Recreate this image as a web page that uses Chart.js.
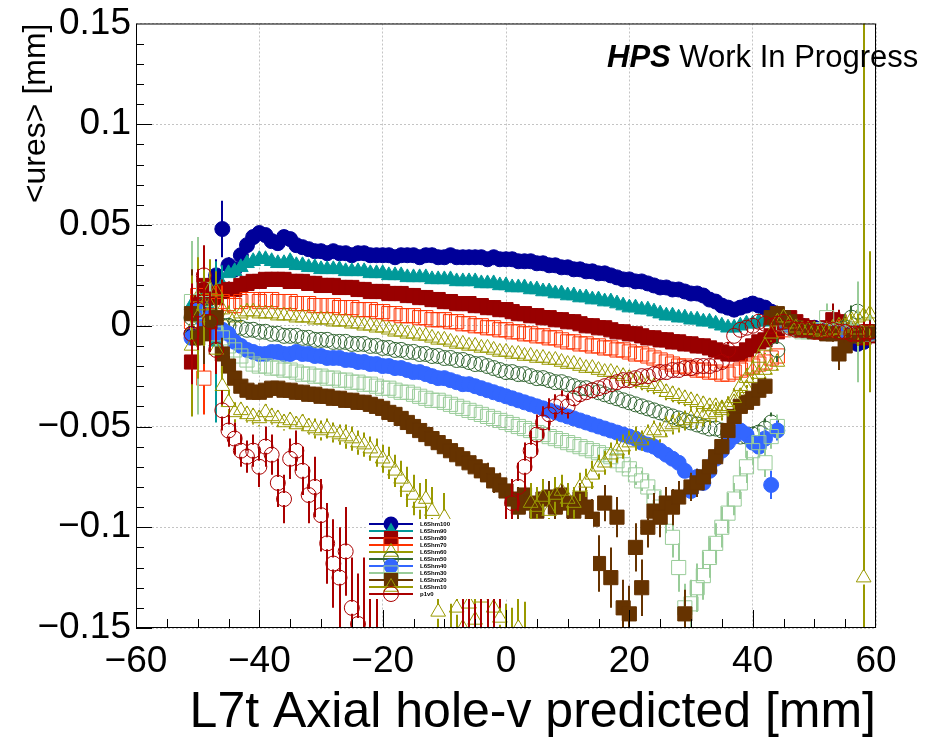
<!DOCTYPE html>
<html>
<head>
<meta charset="utf-8">
<script src="https://cdn.jsdelivr.net/npm/chart.js@4.4.1/dist/chart.umd.min.js"></script>
<style>
  html, body { margin: 0; padding: 0; background: #fff; }
  canvas { display: block; }
</style>
</head>
<body>
<canvas id="chart" width="925" height="739"></canvas>
<script>
// x bin centres [mm]: -51 ... 59, one per mm, shared by all series
const xs = [-51, -50, -49, -48, -47, -46, -45, -44, -43, -42,
  -41, -40, -39, -38, -37, -36, -35, -34, -33, -32,
  -31, -30, -29, -28, -27, -26, -25, -24, -23, -22,
  -21, -20, -19, -18, -17, -16, -15, -14, -13, -12,
  -11, -10, -9, -8, -7, -6, -5, -4, -3, -2,
  -1, 0, 1, 2, 3, 4, 5, 6, 7, 8,
  9, 10, 11, 12, 13, 14, 15, 16, 17, 18,
  19, 20, 21, 22, 23, 24, 25, 26, 27, 28,
  29, 30, 31, 32, 33, 34, 35, 36, 37, 38,
  39, 40, 41, 42, 43, 44, 45, 46, 47, 48,
  49, 50, 51, 52, 53, 54, 55, 56, 57, 58,
  59]

const xTicks = [-60, -40, -20, 0, 20, 40, 60]
const yTicks = [-0.15, -0.1, -0.05, 0, 0.05, 0.1, 0.15]

const seriesNames = ['L6Shm100', 'L6Shm90', 'L6Shm80', 'L6Shm70', 'L6Shm60', 'L6Shm50',
  'L6Shm40', 'L6Shm30', 'L6Shm20', 'L6Shm10', 'p1v0']

// <ures> and its error, in micrometres (1e-3 mm), one row = 10 bins
const shm100 = [-4, 6, 10, 20, 25, 48, 30, 28, 35, 40,
  44, 46, 45, 42, 41, 44, 43, 40, 39, 38,
  37, 37, 36, 37, 36, 36, 35, 36, 36, 35,
  35, 35, 35, 34, 35, 35, 35, 34, 35, 35,
  34, 34, 35, 34, 34, 34, 34, 34, 33, 34,
  33, 33, 33, 32, 32, 32, 31, 31, 30, 30,
  29, 29, 28, 28, 27, 27, 26, 26, 25, 24,
  23, 23, 22, 22, 21, 20, 19, 19, 18, 18,
  17, 16, 16, 15, 13, 12, 10, 9, 8, 9,
  10, 11, 10, 9, 7, 5, 3, 2, 1, 0,
  -1, -1, -2, -2, -2, -3, -3, -6, -9, -8,
  -4]
const shm100Err = [12, 10, 10, 10, 8, 14, 4, 3, 3, 3,
  2, 2, 2, 2, 2, 2, 2, 2, 2, 2,
  2, 2, 2, 2, 2, 2, 2, 2, 2, 2,
  2, 2, 2, 2, 2, 2, 2, 2, 2, 2,
  2, 2, 2, 2, 2, 2, 2, 2, 2, 2,
  2, 2, 2, 2, 2, 2, 2, 2, 2, 2,
  2, 2, 2, 2, 2, 2, 2, 2, 2, 2,
  2, 2, 2, 2, 2, 2, 2, 2, 2, 2,
  2, 2, 2, 2, 2, 2, 2, 2, 2, 2,
  2, 2, 2, 2, 2, 2, 2, 3, 3, 3,
  3, 3, 3, 4, 4, 4, 5, 6, 6, 8,
  10]

const shm90 = [10, 4, 15, 8, -8, 20, 26, 27, 29, 31,
  32, 33, 33, 32, 31, 31, 32, 30, 30, 29,
  29, 28, 28, 28, 28, 27, 27, 27, 27, 26,
  26, 26, 25, 25, 25, 24, 24, 24, 24, 23,
  23, 23, 23, 22, 22, 22, 22, 21, 21, 21,
  20, 20, 19, 19, 19, 18, 18, 17, 17, 16,
  16, 15, 15, 14, 14, 13, 13, 12, 12, 11,
  10, 9, 9, 8, 8, 7, 6, 5, 5, 4,
  4, 3, 3, 2, 2, 1, 0, -1, -1, 0,
  1, 1, 2, 2, 3, 3, 2, 1, 0, -1,
  -1, -2, -2, -2, -3, -3, -3, -4, -4, -3,
  -3]
const shm90Err = [20, 15, 20, 12, 40, 10, 3, 3, 2, 2,
  2, 2, 2, 2, 2, 2, 2, 2, 2, 2,
  2, 2, 2, 2, 2, 2, 2, 2, 2, 2,
  2, 2, 2, 2, 2, 2, 2, 2, 2, 2,
  2, 2, 2, 2, 2, 2, 2, 2, 2, 2,
  2, 2, 2, 2, 2, 2, 2, 2, 2, 2,
  2, 2, 2, 2, 2, 2, 2, 2, 2, 2,
  2, 2, 2, 2, 2, 2, 2, 2, 2, 2,
  2, 2, 2, 2, 2, 2, 2, 2, 2, 2,
  2, 2, 2, 2, 2, 2, 2, 2, 2, 2,
  3, 3, 3, 3, 4, 4, 4, 5, 5, 6,
  8]

const shm80 = [-18, 12, 20, 16, 14, 17, 18, 18, 20, 21,
  22, 22, 23, 23, 23, 23, 22, 22, 22, 21,
  21, 20, 20, 20, 19, 19, 19, 18, 18, 17,
  17, 17, 16, 16, 16, 15, 15, 14, 14, 13,
  13, 12, 12, 11, 11, 11, 10, 10, 9, 9,
  8, 8, 7, 6, 6, 5, 5, 4, 4, 3,
  3, 2, 2, 1, 0, 0, -1, -1, -2, -3,
  -3, -4, -4, -5, -6, -6, -7, -7, -8, -8,
  -9, -9, -10, -10, -11, -12, -13, -14, -14, -14,
  -12, -10, -8, -7, -5, -3, 2, 4, 2, 0,
  -1, -2, -2, -1, 3, 2, -2, -3, -4, -6,
  -5]
const shm80Err = [22, 20, 15, 10, 8, 6, 4, 3, 3, 3,
  2, 2, 2, 2, 2, 2, 2, 2, 2, 2,
  2, 2, 2, 2, 2, 2, 2, 2, 2, 2,
  2, 2, 2, 2, 2, 2, 2, 2, 2, 2,
  2, 2, 2, 2, 2, 2, 2, 2, 2, 2,
  2, 2, 2, 2, 2, 2, 2, 2, 2, 2,
  2, 2, 2, 2, 2, 2, 2, 2, 2, 2,
  2, 2, 2, 2, 2, 2, 2, 2, 2, 2,
  2, 2, 2, 2, 2, 2, 2, 2, 2, 2,
  2, 2, 2, 2, 2, 2, 2, 2, 2, 2,
  3, 3, 3, 4, 8, 6, 4, 4, 5, 6,
  8]

const shm70 = [2, 15, -26, 12, 10, 12, 11, 10, 12, 13,
  13, 12, 13, 13, 12, 12, 12, 11, 11, 11,
  10, 10, 10, 10, 9, 9, 9, 8, 8, 8,
  7, 7, 6, 6, 5, 5, 5, 4, 4, 3,
  3, 3, 2, 2, 1, 1, 0, 0, -1, -1,
  -2, -2, -3, -3, -4, -4, -5, -5, -6, -6,
  -7, -8, -8, -9, -9, -10, -10, -11, -11, -12,
  -12, -13, -14, -14, -15, -16, -17, -18, -19, -20,
  -20, -21, -22, -22, -23, -23, -24, -24, -23, -22,
  -21, -20, -19, -18, -16, -15, -2, 0, -1, -2,
  -2, -2, -3, -3, -3, -2, -3, -4, -4, -3,
  -3]
const shm70Err = [20, 25, 18, 12, 10, 8, 4, 4, 3, 3,
  3, 3, 3, 3, 3, 3, 3, 3, 3, 3,
  3, 3, 3, 3, 3, 3, 3, 3, 3, 3,
  3, 3, 3, 3, 3, 3, 3, 3, 3, 3,
  3, 3, 3, 3, 3, 3, 3, 3, 3, 3,
  3, 3, 3, 3, 3, 3, 3, 3, 3, 3,
  3, 3, 3, 3, 3, 3, 3, 3, 3, 3,
  3, 3, 3, 3, 3, 3, 3, 3, 3, 3,
  3, 3, 3, 3, 3, 3, 3, 3, 3, 3,
  3, 3, 3, 3, 3, 3, 3, 3, 3, 3,
  3, 3, 3, 4, 4, 5, 5, 6, 6, 6,
  8]

const shm60 = [-2, 14, 8, 10, 17, 8, 5, 4, 6, 7,
  7, 6, 6, 6, 5, 5, 5, 4, 4, 4,
  3, 3, 3, 2, 2, 2, 1, 1, 0, 0,
  -1, -1, -2, -3, -3, -4, -4, -5, -5, -6,
  -7, -7, -8, -9, -9, -10, -10, -11, -11, -12,
  -13, -13, -14, -14, -15, -15, -16, -16, -17, -17,
  -18, -19, -19, -20, -21, -21, -22, -23, -23, -24,
  -25, -26, -27, -28, -29, -30, -31, -33, -34, -35,
  -36, -37, -38, -39, -40, -40, -41, -40, -38, -35,
  -31, -26, -24, -22, -20, -18, 2, 0, -1, -2,
  -2, -2, -2, -2, -1, 0, 1, 3, 4, 5,
  6]
const shm60Err = [35, 20, 18, 12, 10, 8, 5, 4, 4, 4,
  3, 3, 3, 3, 3, 3, 3, 3, 3, 3,
  3, 3, 3, 3, 3, 3, 3, 3, 3, 3,
  3, 3, 3, 3, 3, 3, 3, 3, 3, 3,
  3, 3, 3, 3, 3, 3, 3, 3, 3, 3,
  3, 3, 3, 3, 3, 3, 3, 3, 3, 3,
  3, 3, 3, 3, 3, 3, 3, 3, 3, 3,
  4, 4, 4, 4, 4, 4, 4, 4, 4, 4,
  4, 4, 4, 4, 4, 4, 4, 4, 4, 4,
  4, 4, 4, 4, 4, 4, 3, 3, 3, 3,
  3, 3, 3, 3, 4, 4, 5, 6, 8, 10,
  30]

const shm50 = [4, -6, 10, 2, -2, 0, 0, -1, -1, -2,
  -2, -3, -3, -4, -4, -5, -5, -5, -6, -6,
  -7, -7, -7, -8, -8, -8, -9, -9, -9, -10,
  -10, -11, -11, -12, -12, -13, -13, -14, -14, -15,
  -15, -16, -16, -17, -17, -18, -19, -19, -20, -21,
  -22, -23, -23, -24, -24, -25, -26, -26, -27, -28,
  -28, -29, -30, -31, -31, -32, -33, -34, -35, -36,
  -37, -38, -39, -40, -41, -42, -43, -44, -45, -46,
  -47, -48, -49, -50, -51, -51, -52, -53, -54, -55,
  -55, -54, -53, -51, -48, -12, 2, 0, -1, -2,
  -2, -2, -3, -3, -2, -2, -1, 4, 7, -3,
  -3]
const shm50Err = [25, 20, 15, 12, 10, 8, 4, 3, 3, 3,
  3, 3, 3, 3, 3, 3, 3, 3, 3, 3,
  3, 3, 3, 3, 3, 3, 3, 3, 3, 3,
  3, 3, 3, 3, 3, 3, 3, 3, 3, 3,
  3, 3, 3, 3, 3, 3, 3, 3, 3, 3,
  3, 3, 3, 3, 3, 3, 3, 3, 3, 3,
  3, 3, 3, 3, 3, 3, 3, 3, 3, 3,
  3, 3, 3, 3, 3, 3, 3, 3, 3, 3,
  3, 3, 3, 3, 3, 3, 3, 3, 3, 3,
  4, 4, 4, 5, 5, 6, 3, 3, 3, 3,
  3, 3, 3, 3, 4, 4, 5, 6, 8, 6,
  8]

const shm40 = [-6, 8, 2, 4, -4, -2, -4, -8, -10, -12,
  -13, -14, -14, -13, -13, -14, -14, -13, -14, -14,
  -15, -15, -16, -16, -16, -17, -17, -18, -18, -19,
  -19, -20, -20, -21, -21, -22, -23, -23, -24, -25,
  -26, -26, -27, -28, -29, -29, -30, -31, -32, -33,
  -34, -35, -36, -37, -38, -39, -40, -41, -42, -43,
  -44, -45, -46, -47, -48, -49, -50, -51, -52, -53,
  -54, -55, -56, -58, -59, -60, -62, -64, -66, -68,
  -72, -82, -75, -78, -72, -66, -62, -58, -55, -52,
  -54, -58, -60, -56, -79, -52, 2, 0, -1, -2,
  -2, -2, -2, -3, -3, -3, -4, -4, -5, -4,
  -4]
const shm40Err = [25, 22, 18, 12, 10, 8, 4, 3, 3, 3,
  2, 2, 2, 2, 2, 2, 2, 2, 2, 2,
  2, 2, 2, 2, 2, 2, 2, 2, 2, 2,
  2, 2, 2, 2, 2, 2, 2, 2, 2, 2,
  2, 2, 2, 2, 2, 2, 2, 2, 2, 2,
  2, 2, 2, 2, 2, 2, 2, 2, 2, 2,
  2, 2, 2, 2, 2, 2, 2, 2, 2, 2,
  2, 2, 2, 2, 3, 3, 3, 3, 3, 3,
  3, 4, 4, 4, 4, 4, 4, 4, 4, 4,
  4, 4, 5, 5, 7, 5, 3, 3, 3, 3,
  3, 3, 3, 3, 4, 4, 5, 6, 6, 8,
  8]

const shm30 = [12, 0, 18, 6, -4, -6, -10, -12, -15, -17,
  -19, -20, -20, -21, -21, -22, -22, -23, -24, -24,
  -25, -25, -26, -26, -27, -27, -28, -28, -29, -29,
  -30, -31, -31, -32, -33, -33, -34, -35, -36, -37,
  -37, -38, -39, -40, -41, -42, -43, -44, -45, -46,
  -47, -48, -49, -50, -51, -52, -53, -54, -55, -56,
  -57, -58, -59, -60, -61, -62, -63, -64, -65, -67,
  -69, -71, -74, -77, -80, -85, -90, -95, -105, -120,
  -140, -138, -130, -124, -115, -108, -100, -93, -86, -78,
  -70, -62, -58, -68, -55, -50, 1, 0, -2, -3,
  -3, -2, -2, 4, -2, -3, -3, -4, -3, -4,
  -4]
const shm30Err = [30, 44, 20, 15, 12, 8, 4, 3, 3, 3,
  3, 3, 3, 3, 3, 3, 3, 3, 3, 3,
  3, 3, 3, 3, 3, 3, 3, 3, 3, 3,
  3, 3, 3, 3, 3, 3, 3, 3, 3, 3,
  3, 3, 3, 3, 3, 3, 3, 3, 3, 3,
  3, 3, 3, 3, 3, 3, 3, 3, 3, 3,
  3, 3, 3, 3, 3, 3, 3, 3, 3, 3,
  4, 4, 5, 5, 6, 6, 8, 8, 10, 12,
  12, 12, 12, 12, 10, 10, 10, 10, 8, 8,
  8, 7, 7, 7, 6, 6, 3, 3, 3, 3,
  3, 3, 3, 7, 4, 4, 5, 6, 25, 8,
  10]

const shm20 = [6, -6, -4, 2, 4, -14, -20, -26, -30, -32,
  -33, -33, -32, -31, -31, -32, -32, -33, -33, -34,
  -34, -35, -35, -36, -36, -37, -37, -38, -38, -39,
  -40, -41, -43, -44, -46, -48, -50, -52, -54, -56,
  -58, -60, -62, -64, -66, -68, -70, -72, -74, -77,
  -79, -82, -86, -90, -84, -88, -92, -86, -85, -90,
  -84, -88, -92, -86, -90, -96, -118, -88, -125, -95,
  -140, -143, -110, -130, -100, -92, -95, -88, -90, -85,
  -143, -80, -78, -75, -70, -65, -60, -52, -45, -40,
  -38, -36, -32, -30, 4, 6, 4, 2, -1, -2,
  -2, -3, -3, -4, -4, -14, -10, -5, -5, -4,
  -3]
const shm20Err = [22, 20, 15, 12, 10, 8, 5, 4, 3, 3,
  3, 3, 3, 3, 3, 3, 3, 3, 3, 3,
  3, 3, 3, 3, 3, 3, 3, 3, 3, 3,
  3, 3, 3, 3, 3, 4, 4, 4, 4, 4,
  4, 4, 4, 5, 5, 5, 5, 5, 6, 6,
  6, 6, 8, 10, 7, 8, 9, 7, 8, 10,
  8, 9, 10, 8, 10, 10, 14, 9, 15, 10,
  14, 14, 12, 14, 10, 9, 10, 8, 9, 8,
  12, 7, 7, 6, 6, 6, 5, 5, 5, 4,
  4, 4, 4, 4, 4, 4, 3, 3, 3, 3,
  3, 3, 3, 3, 4, 8, 6, 5, 5, 5,
  6]

const shm10 = [-10, 4, 10, 18, -12, -30, -38, -43, -42, -44,
  -45, -46, -43, -45, -46, -48, -47, -49, -48, -50,
  -51, -52, -51, -53, -54, -55, -56, -58, -59, -61,
  -63, -66, -68, -72, -76, -80, -84, -88, -86, -92,
  -142, -95, -160, -140, -150, -138, -146, -135, -165, -140,
  -145, -158, -160, -150, -155, -88, -90, -85, -92, -84,
  -82, -86, -88, -80, -78, -74, -70, -68, -64, -62,
  -60, -58, -56, -57, -54, -52, -53, -50, -49, -48,
  -47, -46, -46, -45, -44, -43, -42, -40, -36, -30,
  -26, -22, -16, -10, -4, 2, 4, 1, -1, -2,
  -2, -2, -3, -3, -2, -2, -1, 0, -2, -125,
  2]
const shm10Err = [35, 30, 20, 15, 12, 10, 6, 5, 4, 4,
  4, 4, 4, 4, 4, 4, 4, 4, 4, 4,
  5, 5, 5, 5, 5, 6, 6, 6, 6, 6,
  7, 7, 8, 8, 9, 10, 10, 10, 10, 12,
  18, 12, 22, 15, 20, 12, 18, 14, 25, 15,
  15, 20, 20, 18, 18, 10, 10, 9, 10, 9,
  8, 8, 8, 7, 7, 7, 6, 6, 6, 6,
  6, 6, 6, 5, 5, 5, 5, 5, 5, 5,
  5, 5, 5, 5, 5, 5, 5, 5, 5, 5,
  5, 5, 4, 4, 4, 3, 3, 3, 3, 3,
  3, 3, 3, 3, 4, 4, 5, 6, 8, 300,
  35]

const p1v0 = [-4, 8, 25, 2, -12, -42, -52, -56, -62, -65,
  -62, -70, -60, -64, -78, -86, -66, -62, -72, -84,
  -80, -94, -108, -118, -125, -112, -140, -148, -175, -170,
  -185, -200, -210, -215, -210, -220, -215, -200, -205, -195,
  -190, -185, -190, -180, -175, -165, -168, -165, -170, -160,
  -120, -100, -88, -80, -70, -62, -54, -48, -44, -40,
  -38, -40, -36, -34, -33, -32, -31, -30, -29, -28,
  -27, -27, -26, -25, -25, -24, -23, -23, -22, -22,
  -21, -21, -20, -20, -20, -19, -18, -12, -5, -2,
  -1, 0, 2, 1, 0, 1, 2, -1, -2, -2,
  -2, -3, -3, -2, -2, -3, -3, -4, -4, -3,
  -3]
const p1v0Err = [25, 20, 15, 15, 12, 10, 8, 8, 8, 8,
  8, 10, 10, 10, 12, 12, 10, 10, 12, 14,
  15, 18, 20, 22, 25, 22, 25, 25, 60, 55,
  50, 30, 30, 30, 30, 30, 30, 30, 30, 30,
  30, 30, 30, 30, 40, 30, 30, 30, 35, 30,
  20, 15, 12, 12, 12, 10, 10, 8, 8, 6,
  6, 6, 4, 4, 3, 3, 3, 3, 3, 3,
  3, 3, 3, 3, 3, 3, 3, 3, 3, 3,
  3, 3, 3, 3, 3, 3, 3, 4, 3, 3,
  3, 3, 3, 3, 3, 3, 3, 3, 3, 3,
  2, 2, 2, 3, 3, 3, 3, 4, 4, 5,
  5]

const seriesValues = [shm100, shm90, shm80, shm70, shm60, shm50, shm40, shm30, shm20, shm10, p1v0]
const seriesErrors = [shm100Err, shm90Err, shm80Err, shm70Err, shm60Err, shm50Err,
  shm40Err, shm30Err, shm20Err, shm10Err, p1v0Err]

// styling
const seriesColors = ['#000099', '#009999', '#990000', '#ff3300', '#999900', '#336633',
  '#3366ff', '#99cc99', '#663300', '#999900', '#aa0000']
const markerStyles = ['circle', 'triangle', 'rect', 'rect', 'triangle', 'circle',
  'circle', 'rect', 'rect', 'triangle', 'circle']
const markerFilled = [true, true, true, false, false, false, true, false, true, false, false]
const markerRadius = { circle: 7.5, rect: 10, triangle: 8.5 }

Chart.defaults.font.family = '"Liberation Sans", Arial, Helvetica, sans-serif'
Chart.defaults.color = '#000'

const um = v => v / 1000 // micrometres -> mm
const fmt = v => String(Math.round(v * 1000) / 1000).replace('-', '\u2212')

function drawMarker(ctx, style, x, y, r, color, filled) {
  ctx.beginPath()
  if (style === 'circle') {
    ctx.arc(x, y, r, 0, Math.PI * 2)
  } else if (style === 'rect') {
    const s = r * Math.SQRT1_2
    ctx.rect(x - s, y - s, 2 * s, 2 * s)
  } else {
    let a = 0
    ctx.moveTo(x + Math.sin(a) * r, y - Math.cos(a) * r)
    a += Math.PI * 2 / 3
    ctx.lineTo(x + Math.sin(a) * r, y - Math.cos(a) * r)
    a += Math.PI * 2 / 3
    ctx.lineTo(x + Math.sin(a) * r, y - Math.cos(a) * r)
  }
  ctx.closePath()
  if (filled) {
    ctx.fillStyle = color
    ctx.fill()
  } else {
    ctx.strokeStyle = color
    ctx.lineWidth = 1
    ctx.stroke()
  }
}

// vertical error bars, drawn just under each dataset's markers
const errorBars = {
  id: 'errorBars',
  beforeDatasetDraw(chart, args) {
    const ds = chart.data.datasets[args.index]
    const { ctx, chartArea: a, scales: { x, y } } = chart
    const gap = ds.pointStyle === 'rect' ? ds.pointRadius * Math.SQRT1_2 : ds.pointRadius * 0.8
    ctx.save()
    ctx.beginPath()
    ctx.rect(a.left, a.top, a.right - a.left, a.bottom - a.top)
    ctx.clip()
    ctx.strokeStyle = ds.borderColor
    ctx.lineWidth = 2
    ctx.beginPath()
    ds.data.forEach((p, i) => {
      const e = ds.errors[i]
      if (p.y == null || !e) return
      const px = Math.round(x.getPixelForValue(p.x))
      const mid = y.getPixelForValue(p.y)
      const top = y.getPixelForValue(p.y + e)
      const bot = y.getPixelForValue(p.y - e)
      if (mid - top > gap) { ctx.moveTo(px, top); ctx.lineTo(px, mid - gap) }
      if (bot - mid > gap) { ctx.moveTo(px, mid + gap); ctx.lineTo(px, bot) }
    })
    ctx.stroke()
    ctx.restore()
  }
}

// ROOT-like frame with inward ticks
const frame = {
  id: 'frame',
  afterDatasetsDraw(chart) {
    const { ctx, chartArea: a, scales: { x, y } } = chart
    ctx.save()
    ctx.strokeStyle = '#000'
    ctx.lineWidth = 1
    ctx.strokeRect(a.left + 0.5, a.top + 0.5, a.right - a.left - 1, a.bottom - a.top - 1)
    ctx.beginPath()
    for (let i = 0; i < xTicks.length - 1; i++) {
      for (let k = 0; k < 4; k++) {
        const v = xTicks[i] + k * (xTicks[i + 1] - xTicks[i]) / 4
        const px = Math.round(x.getPixelForValue(v)) + 0.5
        ctx.moveTo(px, a.bottom)
        ctx.lineTo(px, a.bottom - (k === 0 ? 18 : 9))
      }
    }
    for (let i = 0; i < yTicks.length - 1; i++) {
      for (let k = 0; k < 5; k++) {
        const v = yTicks[i] + k * (yTicks[i + 1] - yTicks[i]) / 5
        const py = Math.round(y.getPixelForValue(v)) + 0.5
        ctx.moveTo(a.left, py)
        ctx.lineTo(a.left + (k === 0 ? 16 : 8), py)
      }
    }
    ctx.stroke()
    ctx.restore()
  }
}

// legend box and label, drawn on top
const overlay = {
  id: 'overlay',
  afterDraw(chart) {
    const ctx = chart.ctx
    ctx.save()
    ctx.fillStyle = '#fff'
    ctx.fillRect(367, 519, 226, 80)
    chart.data.datasets.forEach((ds, i) => {
      const yy = 524 + i * 7
      ctx.strokeStyle = ds.borderColor
      ctx.lineWidth = 2
      ctx.beginPath()
      ctx.moveTo(369, yy)
      ctx.lineTo(413, yy)
      ctx.stroke()
      drawMarker(ctx, ds.pointStyle, 391, yy, ds.pointRadius, ds.borderColor, ds.filled)
      ctx.fillStyle = '#000'
      ctx.font = 'bold 6px "Liberation Sans", Arial, sans-serif'
      ctx.textBaseline = 'middle'
      ctx.textAlign = 'left'
      ctx.fillText(ds.label, 420, yy)
    })

    ctx.textBaseline = 'alphabetic'
    ctx.font = 'italic bold 31px "Liberation Sans", Arial, sans-serif'
    ctx.fillText('HPS', 607, 67)
    const w = ctx.measureText('HPS').width
    ctx.font = '31px "Liberation Sans", Arial, sans-serif'
    ctx.fillText(' Work In Progress', 607 + w, 67)
    ctx.restore()
  }
}

const datasets = seriesNames.map((name, i) => ({
  label: name,
  data: xs.map((x, j) => ({ x, y: um(seriesValues[i][j]) })),
  errors: seriesErrors[i].map(um),
  filled: markerFilled[i],
  borderColor: seriesColors[i],
  backgroundColor: markerFilled[i] ? seriesColors[i] : 'rgba(0,0,0,0)',
  pointStyle: markerStyles[i],
  pointRadius: markerRadius[markerStyles[i]],
  pointBorderWidth: 1,
  showLine: false,
  order: seriesNames.length - i,
  clip: 0
}))

new Chart(document.getElementById('chart'), {
  type: 'scatter',
  data: { datasets },
  options: {
    responsive: false,
    animation: false,
    devicePixelRatio: 1,
    layout: { padding: { top: 19, right: 49, left: 0, bottom: 0 } },
    plugins: { legend: { display: false }, tooltip: { enabled: false } },
    scales: {
      x: {
        type: 'linear',
        min: -60,
        max: 60,
        afterBuildTicks: s => { s.ticks = xTicks.map(v => ({ value: v })) },
        afterFit: s => { s.height = 111 },
        ticks: { callback: fmt, font: { size: 37, lineHeight: 1 }, padding: 15, maxRotation: 0, autoSkip: false },
        grid: { color: '#c4c4c4', lineWidth: 1, drawTicks: false },
        border: { display: false, dash: [2, 2] },
        title: {
          display: true,
          text: 'L7t Axial hole-v predicted [mm]',
          align: 'end',
          font: { size: 50, lineHeight: 1 },
          padding: { top: 0, bottom: 1 }
        }
      },
      y: {
        type: 'linear',
        min: -0.15,
        max: 0.15,
        afterBuildTicks: s => { s.ticks = yTicks.map(v => ({ value: v })) },
        afterFit: s => { s.width = 136 },
        ticks: { callback: fmt, font: { size: 37, lineHeight: 1 }, padding: 5 },
        grid: { color: '#c4c4c4', lineWidth: 1, drawTicks: false },
        border: { display: false, dash: [2, 2] },
        title: {
          display: true,
          text: '<ures> [mm]',
          align: 'end',
          font: { size: 32, lineHeight: 1.2 },
          padding: { top: 17, bottom: 0 }
        }
      }
    }
  },
  plugins: [errorBars, frame, overlay]
})
</script>
</body>
</html>
